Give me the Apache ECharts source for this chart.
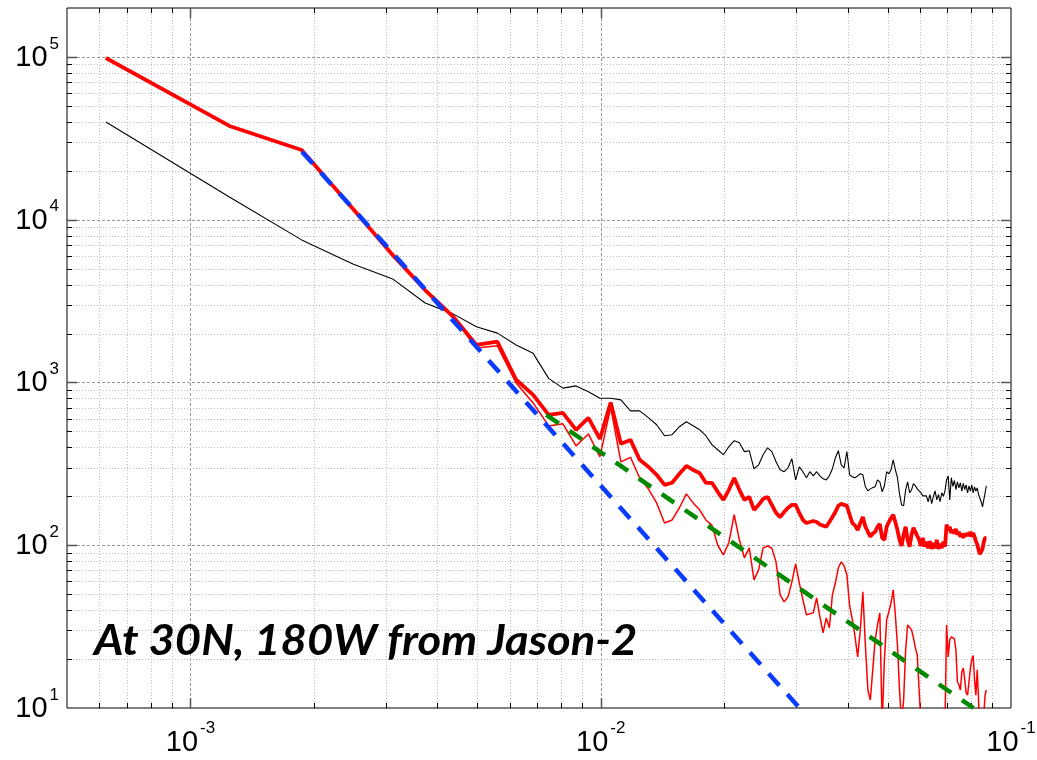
<!DOCTYPE html>
<html>
<head>
<meta charset="utf-8">
<script src="https://cdn.jsdelivr.net/npm/echarts@6/dist/echarts.min.js"></script>
<style>
  html, body { margin: 0; padding: 0; background: #fff; }
  #chart { width: 1037px; height: 760px; }
</style>
</head>
<body>
<div id="chart"></div>
<script>
// Spectral frequency grid: uniform step (k * step, k = 1..140)
const freqStep = 0.000622;

// Thin black curve
const blackPSD = [
  39900, 13800, 7520, 5350, 4330, 3080, 2650, 2200, 2010, 1700,
  1510, 1060, 923, 953, 876, 801, 801, 782, 669, 669,
  608, 550, 471, 478, 535, 574, 543, 513, 471, 415,
  386, 360, 403, 439, 427, 376, 381, 295, 312, 360,
  397, 376, 326, 291, 283, 299, 340, 252, 303, 283,
  260, 283, 267, 283, 267, 256, 252, 267, 295, 345,
  381, 312, 299, 376, 271, 263, 260, 267, 275, 271,
  229, 216, 222, 226, 229, 252, 245, 213, 232, 283,
  275, 291, 335, 291, 260, 207, 177, 175, 219, 245,
  210, 219, 239, 232, 222, 219, 210, 201, 198, 201,
  185, 205, 180, 200, 216, 190, 205, 185, 210, 200,
  216, 252, 267, 190, 260, 230, 250, 220, 245, 225,
  242, 215, 240, 220, 235, 210, 232, 215, 235, 210,
  228, 215, 225, 205, 200, 185, 172, 190, 210, 232
];

// Thick red curve
const redThickPSD = [
  98600, 37700, 26800, 11700, 6080, 3700, 2560, 1700, 1780, 1040,
  839, 632, 650, 512, 606, 450, 753, 420, 444, 335,
  304, 271, 235, 242, 275, 307, 290, 278, 242, 242,
  213, 190, 219, 259, 219, 190, 198, 165, 177, 193,
  198, 177, 158, 149, 160, 170, 177, 177, 158, 143,
  137, 139, 141, 139, 134, 132, 130, 139, 149, 160,
  175, 180, 177, 175, 154, 137, 132, 124, 137, 149,
  130, 121, 113, 118, 121, 130, 135, 111, 108, 130,
  139, 147, 154, 139, 124, 108, 99, 116, 130, 108,
  98, 116, 128, 121, 114, 108, 99, 111, 98, 105,
  96, 106, 95, 103, 96, 108, 95, 102, 96, 105,
  98, 134, 123, 130, 119, 124, 118, 126, 116, 121,
  113, 118, 111, 118, 114, 119, 114, 121, 113, 119,
  113, 106, 101, 94, 88, 87, 95, 105, 111, 111
];

// Thin red curve
const redThinPSD = [
  98600, 37700, 26800, 11700, 6080, 3700, 2560, 1630, 1680, 994,
  749, 541, 557, 408, 483, 349, 703, 325, 347, 259,
  222, 182, 137, 143, 170, 207, 182, 165, 143, 133,
  100, 87.3, 104, 154, 108, 83.7, 96.4, 61.3, 70.6, 96.4,
  99, 96, 79, 49.6, 44.9, 48.2, 59.6, 76.9, 58.8, 46.2,
  37.4, 37.9, 38.4, 47.5, 36.3, 29.0, 35.8, 31.1, 49.6, 58.8,
  72.7, 79, 74.7, 65.8, 42.4, 34.8, 27.4, 20.6, 30.2, 51.7,
  24.4, 12.9, 11.2, 17.2, 26.2, 32.4, 38.4, 8, 19.8, 34.8,
  39, 44.3, 53.2, 37.4, 24.4, 12.9, 8, 11.2, 22.8, 32.4,
  32, 30.2, 27, 23.4, 21.2, 12.9, 8, 6, 5, 6,
  9, 5, 7, 4, 8, 6, 5, 7, 9, 6,
  8, 32.4, 20.6, 26.2, 27.4, 27, 26.6, 22.8, 14.5, 13.9,
  12.9, 16.7, 17.6, 15, 12.4, 12, 14.5, 17.6, 19.8, 21,
  15, 12, 17.2, 11.2, 7, 6, 7, 9, 12, 12.9
];

// Reference power-law lines (end points)
const blueFit = [[0.00187, 26200], [0.0303, 10.2]];
const greenFit = [[0.00737, 632], [0.081, 10]];

// Axis ranges and tick values
const xRange = [0.0005, 0.1];
const yRange = [10, 200000];
const xMajor = [0.001, 0.01];
const xMinor = [0.0006, 0.0007, 0.0008, 0.0009,
  0.002, 0.003, 0.004, 0.005, 0.006, 0.007, 0.008, 0.009,
  0.02, 0.03, 0.04, 0.05, 0.06, 0.07, 0.08, 0.09];
const yMajor = [100, 1000, 10000, 100000];
const yMinor = [20, 30, 40, 50, 60, 70, 80, 90,
  200, 300, 400, 500, 600, 700, 800, 900,
  2000, 3000, 4000, 5000, 6000, 7000, 8000, 9000,
  20000, 30000, 40000, 50000, 60000, 70000, 80000, 90000];
// Tick label values (shown as 10^n)
const xLabelValues = [0.001, 0.01, 0.1];
const yLabelValues = [10, 100, 1000, 10000, 100000];

const titleText = 'At 30N, 180W from Jason-2';

const freq = blackPSD.map((_, i) => (i + 1) * freqStep);
const pairs = arr => arr.map((v, i) => [freq[i], v]);

const xGridData = xMajor.map(v => [v, 100, 1]).concat(xMinor.map(v => [v, 100, 0]));
const yGridData = yMajor.map(v => [0.001, v, 1]).concat(yMinor.map(v => [0.001, v, 0]));
const xLabelData = xLabelValues.map(v => [v, 100]);
const yLabelData = yLabelValues.map(v => [0.001, v]);

function crisp(v) { return Math.round(v) + 0.5; }

function renderXGrid(params, api) {
  const cs = params.coordSys;
  const px = crisp(api.coord([api.value(0), api.value(1)])[0]);
  const major = api.value(2) === 1;
  const top = cs.y, bottom = cs.y + cs.height;
  const tl = major ? 10 : 5;
  return {
    type: 'group',
    children: [
      { type: 'line', shape: { x1: px, y1: top, x2: px, y2: bottom },
        style: { stroke: major ? '#9a9a9a' : '#bdbdbd', lineWidth: 1, lineDash: major ? [3, 2] : [1, 2] } },
      { type: 'line', shape: { x1: px, y1: bottom, x2: px, y2: bottom - tl },
        style: { stroke: major ? '#555' : '#000', lineWidth: major ? 1.5 : 1 } },
      { type: 'line', shape: { x1: px, y1: top, x2: px, y2: top + tl },
        style: { stroke: major ? '#555' : '#000', lineWidth: major ? 1.5 : 1 } }
    ]
  };
}

function renderYGrid(params, api) {
  const cs = params.coordSys;
  const py = crisp(api.coord([api.value(0), api.value(1)])[1]);
  const major = api.value(2) === 1;
  const left = cs.x, right = cs.x + cs.width;
  const tl = major ? 10 : 5;
  return {
    type: 'group',
    children: [
      { type: 'line', shape: { x1: left, y1: py, x2: right, y2: py },
        style: { stroke: major ? '#9a9a9a' : '#bdbdbd', lineWidth: 1, lineDash: major ? [3, 2] : [1, 2] } },
      { type: 'line', shape: { x1: left, y1: py, x2: left + tl, y2: py },
        style: { stroke: major ? '#555' : '#000', lineWidth: major ? 1.5 : 1 } },
      { type: 'line', shape: { x1: right, y1: py, x2: right - tl, y2: py },
        style: { stroke: major ? '#555' : '#000', lineWidth: major ? 1.5 : 1 } }
    ]
  };
}

const BASE_FS = 29, EXP_FS = 17, FONT = 'Liberation Sans';

function expText(v) { return String(Math.round(Math.log10(v))); }

function renderXLabel(params, api) {
  const cs = params.coordSys;
  const px = api.coord([api.value(0), api.value(1)])[0];
  const ex = expText(api.value(0));
  const baseW = BASE_FS * 1.112;
  const expW = EXP_FS * (ex.length === 2 ? 0.889 : 0.556);
  const total = baseW + 2 + expW;
  const x0 = px - total / 2;
  const yb = cs.y + cs.height + 35;
  return {
    type: 'group',
    children: [
      { type: 'text', style: { text: '10', x: x0, y: yb, fontSize: BASE_FS, fontFamily: FONT, fill: '#000', align: 'left', verticalAlign: 'middle' } },
      { type: 'text', style: { text: ex, x: x0 + baseW + 2, y: yb - 15, fontSize: EXP_FS, fontFamily: FONT, fill: '#000', align: 'left', verticalAlign: 'middle' } }
    ]
  };
}

function renderYLabel(params, api) {
  const cs = params.coordSys;
  const py = api.coord([api.value(0), api.value(1)])[1];
  const ex = expText(api.value(1));
  const expW = EXP_FS * (ex.length === 2 ? 0.889 : 0.556);
  const right = cs.x - 8;
  return {
    type: 'group',
    children: [
      { type: 'text', style: { text: '10', x: right - expW - 2, y: py + 1, fontSize: BASE_FS, fontFamily: FONT, fill: '#000', align: 'right', verticalAlign: 'middle' } },
      { type: 'text', style: { text: ex, x: right, y: py - 13, fontSize: EXP_FS, fontFamily: FONT, fill: '#000', align: 'right', verticalAlign: 'middle' } }
    ]
  };
}

const chart = echarts.init(document.getElementById('chart'), null, { renderer: 'canvas' });
chart.setOption({
  animation: false,
  backgroundColor: '#fff',
  grid: { left: 67, top: 8, width: 944, height: 700, show: true, borderColor: '#000', borderWidth: 1, backgroundColor: 'transparent', containLabel: false },
  xAxis: {
    type: 'log', logBase: 10, min: xRange[0], max: xRange[1],
    axisLine: { show: false }, axisTick: { show: false }, splitLine: { show: false }, axisLabel: { show: false }
  },
  yAxis: {
    type: 'log', logBase: 10, min: yRange[0], max: yRange[1],
    axisLine: { show: false }, axisTick: { show: false }, splitLine: { show: false }, axisLabel: { show: false }
  },
  graphic: [{
    type: 'text', left: 94, top: 620, z: 100, scaleX: 1.08,
    style: { text: titleText, font: 'italic bold 42px Lato', fill: '#000' }
  }],
  series: [
    { type: 'custom', name: 'xgrid', renderItem: renderXGrid, data: xGridData, encode: { x: 0, y: 1 }, silent: true, z: 1, clip: false },
    { type: 'custom', name: 'ygrid', renderItem: renderYGrid, data: yGridData, encode: { x: 0, y: 1 }, silent: true, z: 1, clip: false },
    { type: 'custom', name: 'xlabels', renderItem: renderXLabel, data: xLabelData, encode: { x: 0, y: 1 }, silent: true, z: 1, clip: false },
    { type: 'custom', name: 'ylabels', renderItem: renderYLabel, data: yLabelData, encode: { x: 0, y: 1 }, silent: true, z: 1, clip: false },
    { type: 'line', name: 'black', data: pairs(blackPSD), symbol: 'none', lineStyle: { color: '#000', width: 1.1 }, z: 3, clip: true },
    { type: 'line', name: 'redThin', data: pairs(redThinPSD), symbol: 'none', lineStyle: { color: '#ff0000', width: 1.5 }, z: 4, clip: true },
    { type: 'line', name: 'redThick', data: pairs(redThickPSD), symbol: 'none', lineStyle: { color: '#ff0000', width: 3.8 }, z: 5, clip: true },
    { type: 'line', name: 'green', data: greenFit, symbol: 'none', lineStyle: { color: '#008a00', width: 4.5, type: [15, 13] }, z: 6, clip: true },
    { type: 'line', name: 'blue', data: blueFit, symbol: 'none', lineStyle: { color: '#0a3cff', width: 4.5, type: [16, 12] }, z: 7, clip: true }
  ]
});
</script>
</body>
</html>
